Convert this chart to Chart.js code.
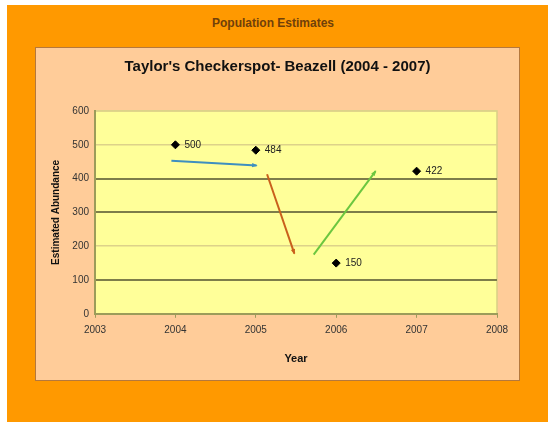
<!DOCTYPE html>
<html>
<head>
<meta charset="utf-8">
<script src="https://cdn.jsdelivr.net/npm/chart.js@4/dist/chart.umd.min.js"></script>
<style>
body { margin:0; background:#fff; width:548px; height:422px; overflow:hidden; position:relative; font-family: Arial, "Liberation Sans", sans-serif; }
#frame { position:absolute; left:7px; top:5px; width:541px; height:417px; background:#ff9900; }
#heading { position:absolute; left:0; top:16px; width:546px; text-align:center; font-size:12px; font-weight:bold; color:#70400a; }
#chart { position:absolute; left:35px; top:47px; }
</style>
</head>
<body>
<div id="frame"></div>
<div id="heading">Population Estimates</div>
<canvas id="chart" width="485" height="334"></canvas>
<script>
// population estimates
const years = [2004, 2005, 2006, 2007];
const abundance = [500, 484, 150, 422];

// axis ranges
const yearMin = 2003, yearMax = 2008;
const abundanceMax = 600, abundanceStep = 100;

// the three trend arrows (start, end) in data units
const blueArrow = [{x: 2003.95, y: 453}, {x: 2005.01, y: 439}];
const redArrow = [{x: 2005.14, y: 413}, {x: 2005.48, y: 178}];
const greenArrow = [{x: 2005.72, y: 175}, {x: 2006.49, y: 422}];

const points = years.map((yr, i) => ({x: yr, y: abundance[i]}));

function arrowSet(data, color) {
    return {
        type: 'line',
        data: data,
        borderColor: color,
        backgroundColor: color,
        borderWidth: 2,
        pointRadius: 0,
        showLine: true,
        arrow: true
    };
}

const chartBackground = {
    id: 'chartBackground',
    beforeDraw(chart) {
        const {ctx, chartArea: a, width, height} = chart;
        ctx.save();
        ctx.fillStyle = '#ffcc99';
        ctx.fillRect(0, 0, width, height);
        ctx.strokeStyle = '#b5783c';
        ctx.lineWidth = 1;
        ctx.strokeRect(0.5, 0.5, width - 1, height - 1);
        ctx.fillStyle = '#ffff99';
        ctx.fillRect(a.left, a.top, a.width, a.height);
        ctx.strokeStyle = '#d9cf86';
        ctx.lineWidth = 1.5;
        ctx.strokeRect(a.left, a.top, a.width, a.height);
        ctx.restore();
    }
};

const arrowsAndLabels = {
    id: 'arrowsAndLabels',
    afterDatasetsDraw(chart) {
        const ctx = chart.ctx;
        ctx.save();
        chart.data.datasets.forEach((ds, i) => {
            const meta = chart.getDatasetMeta(i);
            if (ds.arrow) {
                const p0 = meta.data[0], p1 = meta.data[1];
                const ang = Math.atan2(p1.y - p0.y, p1.x - p0.x);
                const s = 5;
                ctx.fillStyle = ds.borderColor;
                ctx.beginPath();
                ctx.moveTo(p1.x + Math.cos(ang) * 1, p1.y + Math.sin(ang) * 1);
                ctx.lineTo(p1.x - s * Math.cos(ang - 0.45), p1.y - s * Math.sin(ang - 0.45));
                ctx.lineTo(p1.x - s * Math.cos(ang + 0.45), p1.y - s * Math.sin(ang + 0.45));
                ctx.closePath();
                ctx.fill();
            } else {
                ctx.fillStyle = '#222';
                ctx.font = '10px Arial, "Liberation Sans", sans-serif';
                ctx.textAlign = 'left';
                ctx.textBaseline = 'middle';
                meta.data.forEach((pt, j) => {
                    ctx.fillText(String(ds.data[j].y), pt.x + 9, pt.y);
                });
            }
        });
        ctx.restore();
    }
};

const lightLines = [200, 500, 600];

new Chart(document.getElementById('chart'), {
    type: 'scatter',
    data: {
        datasets: [
            {
                data: points,
                pointStyle: 'rectRot',
                pointRadius: 4,
                backgroundColor: '#000',
                borderColor: '#000'
            },
            arrowSet(blueArrow, '#3d8fc0'),
            arrowSet(redArrow, '#c9601c'),
            arrowSet(greenArrow, '#6cc640')
        ]
    },
    options: {
        responsive: false,
        animation: false,
        layout: { padding: { left: 0, right: 0, top: 0, bottom: 11 } },
        plugins: {
            legend: { display: false },
            tooltip: { enabled: false },
            title: {
                display: true,
                text: "Taylor's Checkerspot- Beazell (2004 - 2007)",
                color: '#111',
                font: { family: 'Arial, "Liberation Sans", sans-serif', size: 15, weight: 'bold' },
                padding: { top: 10.5, bottom: 35.5 }
            }
        },
        scales: {
            x: {
                type: 'linear',
                min: yearMin,
                max: yearMax,
                ticks: {
                    stepSize: 1,
                    color: '#333',
                    padding: 6,
                    font: { family: 'Arial, "Liberation Sans", sans-serif', size: 10 },
                    callback: v => String(v)
                },
                grid: { drawOnChartArea: false, drawTicks: true, tickLength: 4, color: '#9c9c5a' },
                border: { display: true, color: '#9c9c5a', width: 2 },
                title: {
                    display: true,
                    text: 'Year',
                    color: '#111',
                    font: { family: 'Arial, "Liberation Sans", sans-serif', size: 11, weight: 'bold' },
                    padding: { top: 11, bottom: 4 }
                }
            },
            y: {
                min: 0,
                max: abundanceMax,
                afterFit: s => { s.width = 60; },
                ticks: {
                    stepSize: abundanceStep,
                    color: '#333',
                    padding: 6,
                    font: { family: 'Arial, "Liberation Sans", sans-serif', size: 10 }
                },
                grid: {
                    drawTicks: false,
                    color: c => lightLines.includes(c.tick.value) ? '#ddd28a' : '#7d7d4a',
                    lineWidth: c => lightLines.includes(c.tick.value) ? 1.5 : 2
                },
                border: { display: true, color: '#9c9c5a', width: 2 },
                title: {
                    display: true,
                    text: 'Estimated Abundance',
                    color: '#111',
                    font: { family: 'Arial, "Liberation Sans", sans-serif', size: 10, weight: 'bold' },
                    padding: { top: 15, bottom: 0 }
                }
            },
            // empty right-hand axis only to keep the margin right of the plot
            yRight: {
                position: 'right',
                display: true,
                afterFit: s => { s.width = 23; },
                ticks: { display: false },
                grid: { display: false, drawTicks: false },
                border: { display: false }
            }
        }
    },
    plugins: [chartBackground, arrowsAndLabels]
});
</script>
</body>
</html>
